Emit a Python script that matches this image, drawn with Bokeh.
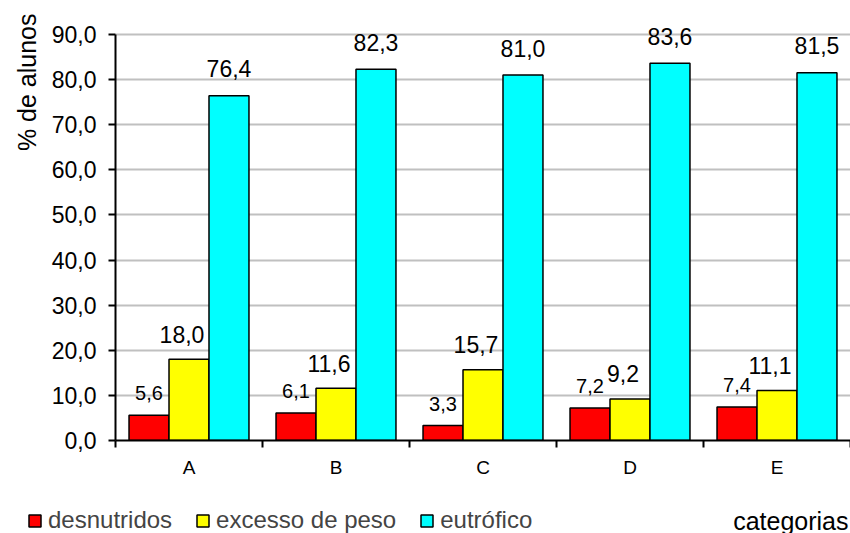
import numpy as np
from bokeh.plotting import figure
from bokeh.layouts import column
from bokeh.models import (ColumnDataSource, FixedTicker, Range1d, Legend, LegendItem, Label, Title)
from bokeh.core.properties import value
from bokeh.embed import file_html
from bokeh.resources import INLINE

categories = ["A", "B", "C", "D", "E"]
desnutridos = [5.6, 6.1, 3.3, 7.2, 7.4]
excesso_de_peso = [18.0, 11.6, 15.7, 9.2, 11.1]
eutrofico = [76.4, 82.3, 81.0, 83.6, 81.5]
series_names = ["desnutridos", "excesso de peso", "eutrófico"]
series_colors = ["#FF0000", "#FFFF00", "#00FFFF"]
y_ticks = [0, 10, 20, 30, 40, 50, 60, 70, 80, 90]

FONT = "Liberation Sans"

# frame: bottom at 440 px, 90 at 34 px; extra headroom so value labels are not clipped
p = figure(width=850, height=485, output_backend="svg", toolbar_location=None,
           x_range=Range1d(0, 5), y_range=Range1d(0, 90 * 438 / 406),
           min_border_left=115, min_border_right=0, min_border_top=2, min_border_bottom=45)
p.frame_align = False
p.outline_line_color = None
p.background_fill_color = "white"
p.border_fill_color = "white"

centers = np.arange(len(categories)) + 0.5
width = 0.272
offsets = [-0.272, 0.0, 0.272]
label_sizes = ["20px", "23px", "23px"]
label_xoff = [0, -7, 0]
label_yoff = [-22, -25, -27]

sources = []
for vals, name, col, off, ls, xo, yo in zip([desnutridos, excesso_de_peso, eutrofico],
                                            series_names, series_colors, offsets,
                                            label_sizes, label_xoff, label_yoff):
    src = ColumnDataSource(dict(x=centers + off, top=vals,
                                lab=[f"{v:.1f}".replace(".", ",") for v in vals]))
    sources.append(src)
    p.vbar(x="x", top="top", width=width, source=src, fill_color=col,
           line_color="black", line_width=1.5)
    p.text(x="x", y="top", text="lab", source=src, text_align="center",
           text_baseline="alphabetic", y_offset=yo, x_offset=xo,
           text_font=value(FONT), text_font_size=ls, text_color="black")

# axes
p.xaxis.ticker = FixedTicker(ticks=list(centers), minor_ticks=list(np.arange(len(categories) + 1)))
p.xaxis.major_label_overrides = {float(c): cat for c, cat in zip(centers, categories)}
p.xaxis.major_tick_line_color = None
p.xaxis.minor_tick_line_color = "black"
p.xaxis.minor_tick_line_width = 2
p.xaxis.minor_tick_out = 7
p.xaxis.minor_tick_in = 0
p.xaxis.axis_line_width = 2
p.xaxis.axis_line_color = "black"
p.xaxis.major_label_text_font = FONT
p.xaxis.major_label_text_font_size = "19px"
p.xaxis.major_label_text_color = "black"
p.xaxis.major_label_standoff = 9

p.yaxis.ticker = FixedTicker(ticks=y_ticks)
p.yaxis.bounds = (0, 90)
p.yaxis.major_label_overrides = {t: f"{t:.1f}".replace(".", ",") for t in y_ticks}
p.yaxis.major_tick_line_width = 2
p.yaxis.major_tick_out = 7
p.yaxis.major_tick_in = 0
p.yaxis.minor_tick_line_color = None
p.yaxis.axis_line_width = 2
p.yaxis.major_label_text_font = FONT
p.yaxis.major_label_text_font_size = "23px"
p.yaxis.major_label_text_color = "black"
p.yaxis.major_label_standoff = 12

p.xgrid.grid_line_color = None
p.ygrid.grid_line_color = "#C0C0C0"
p.ygrid.grid_line_width = 2
p.ygrid.ticker = FixedTicker(ticks=y_ticks)

p.add_layout(Title(text="% de alunos", align="right", offset=11,
                   text_font=FONT, text_font_size="25px", text_font_style="normal",
                   text_color="black", standoff=16), "left")

# bottom strip: legend and "categorias"
p2 = figure(width=850, height=48, output_backend="svg", toolbar_location=None,
            x_range=Range1d(0, 850), y_range=Range1d(0, 48),
            x_axis_location=None, y_axis_location=None,
            min_border=0, min_border_left=0, min_border_right=0,
            min_border_top=0, min_border_bottom=0)
p2.frame_align = False
p2.outline_line_color = None
p2.grid.visible = False
p2.border_fill_color = "white"

items = []
for name, col, src in zip(series_names, series_colors, sources):
    r = p2.vbar(x="x", top="top", width=width, source=src, fill_color=col,
                line_color="black", line_width=1.5, visible=False)
    items.append(LegendItem(label=name, renderers=[r]))

legend = Legend(items=items, orientation="horizontal", location=(27, -1),
                label_text_font=FONT, label_text_font_size="24px",
                glyph_width=15, glyph_height=15, label_standoff=6, spacing=23,
                padding=0, margin=0, border_line_color=None, background_fill_alpha=0)
p2.add_layout(legend, "center")
p2.add_layout(Label(x=848, y=13, text="categorias",
                    text_align="right", text_baseline="alphabetic",
                    text_font=FONT, text_font_size="25px", text_color="black"))

layout = column(p, p2, spacing=0)
open("out.html", "w").write(file_html(layout, INLINE))
